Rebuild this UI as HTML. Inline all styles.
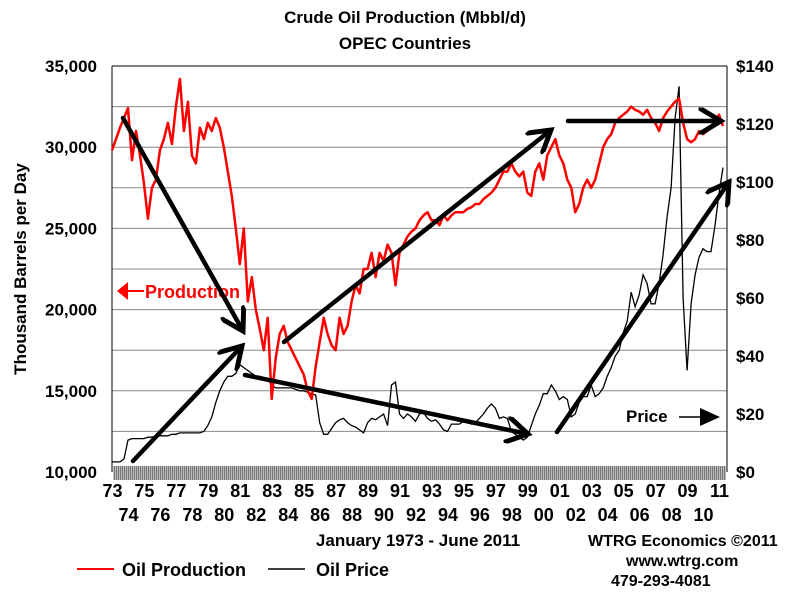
<!DOCTYPE html>
<html><head><meta charset="utf-8"><style>
body{margin:0;background:#fff;}
svg{display:block;font-family:"Liberation Sans",Arial,sans-serif;font-weight:bold;}
</style></head><body>
<svg id="chart" width="800" height="600" viewBox="0 0 800 600">
<defs>
<pattern id="hatch" width="2" height="2" patternUnits="userSpaceOnUse"><rect width="1" height="2" fill="#777"/><rect x="1" width="1" height="2" fill="#bbb"/></pattern>
<marker id="ah" markerWidth="6" markerHeight="6" refX="5" refY="3" orient="auto" markerUnits="strokeWidth"><path d="M0,0 L5,3 L0,6" fill="none" stroke="#000" stroke-width="1.1"/></marker>
</defs>
<text x="405" y="23" font-size="17" text-anchor="middle">Crude Oil Production (Mbbl/d)</text>
<text x="405" y="49" font-size="17" text-anchor="middle">OPEC Countries</text>
<g id="grid"></g>
<rect x="113" y="466" width="613" height="14" fill="url(#hatch)"/>
<line x1="112" y1="66" x2="727" y2="66" stroke="#000"/>
<line x1="112" y1="66" x2="112" y2="472" stroke="#000"/>
<line x1="727" y1="66" x2="727" y2="472" stroke="#000"/>
<g id="series"></g>
<g id="labels" font-size="17"></g>
<text transform="translate(26,269) rotate(-90)" font-size="17" text-anchor="middle">Thousand Barrels per Day</text>
<path d="M117,291 L128,282 L128,300 Z" fill="#f00"/>
<line x1="126" y1="291" x2="144" y2="291" stroke="#f00" stroke-width="2"/>
<text x="145" y="298" font-size="18" fill="#f00">Production</text>
<text x="626" y="422" font-size="17">Price</text>
<line x1="679" y1="417" x2="700" y2="417" stroke="#000" stroke-width="1.5"/>
<path d="M700,408 L720,417 L700,426 Z" fill="#000"/>
<g id="arrows" stroke="#000" stroke-width="4.5" fill="none" stroke-linecap="round"></g>
<text x="418" y="546" font-size="17" text-anchor="middle">January 1973 - June 2011</text>
<text x="588" y="546" font-size="16">WTRG Economics  ©2011</text>
<text x="626" y="566" font-size="16">www.wtrg.com</text>
<text x="611" y="586" font-size="16">479-293-4081</text>
<line x1="77" y1="569" x2="114" y2="569" stroke="#f00" stroke-width="2"/>
<text x="122" y="576" font-size="18">Oil Production</text>
<line x1="268" y1="569" x2="305" y2="569" stroke="#000" stroke-width="1.5"/>
<text x="316" y="576" font-size="18">Oil Price</text>
</svg>
<script>
const startYear = 1973;
const production = [
29.8,30.5,31.2,31.8, 32.4,29.2,31.0,29.5, 27.8,25.6,27.5,28.0, 29.8,30.5,31.5,30.2,
32.5,34.2,31.0,32.8, 29.5,29.0,31.2,30.5, 31.5,31.0,31.8,31.2, 30.0,28.5,27.0,25.0,
22.8,25.0,20.5,22.0, 20.0,18.8,17.5,19.5, 14.5,17.0,18.5,19.0, 18.0,17.5,17.0,16.5,
16.0,15.0,14.5,16.5, 18.0,19.5,18.5,17.8, 17.5,19.5,18.5,19.0, 20.5,21.5,21.0,22.5,
22.5,23.5,22.0,23.5, 23.0,24.0,23.5,21.5, 23.5,24.0,24.5,24.8, 25.0,25.5,25.8,26.0,
25.5,25.5,25.2,25.8, 25.5,25.8,26.0,26.0, 26.0,26.2,26.3,26.5, 26.5,26.8,27.0,27.2,
27.5,28.0,28.5,28.5, 29.0,28.5,28.2,28.5, 27.2,27.0,28.5,29.0, 28.0,29.5,30.0,30.5,
29.5,29.0,28.0,27.5, 26.0,26.5,27.5,28.0, 27.5,28.0,29.0,30.0, 30.5,30.8,31.5,31.8,
32.0,32.2,32.5,32.3, 32.2,32.0,32.3,31.8, 31.5,31.0,31.8,32.2, 32.5,32.8,33.0,31.5,
30.5,30.3,30.5,31.0, 30.8,31.0,31.2,31.5, 32.0,31.3];
const price = [
3.5,3.5,3.5,4.5, 11,11.5,11.5,11.5, 11.5,12,12,12.5, 12.5,12.5,12.5,13,
13,13.5,13.5,13.5, 13.5,13.5,13.5,14, 16,19,24,28, 31,33,33,34,
37,36,35,34, 33,33,32,32, 30,29,29,29, 29,29,28.5,28,
28,27.5,27,26.5, 17,13,13,15, 17,18,18.5,17, 16,15.5,14.5,13.5,
17,18.5,18,19, 20,16,30,31, 20,18.5,20,19, 17.5,20,20.5,18.5,
17.5,18,16.5,14.5, 14,16.5,16.5,16.5, 17.5,17.5,16.5,17, 18.5,20,22,23.5,
22,18.5,19,18.5, 14,13,12,11, 12,16,20,23, 27,27,30,28,
25,26,25,19, 20,24,26,26, 30,26,27,29, 33,36,40,42,
48,52,62,57, 61,68,65,58, 58,65,75,88, 98,122,133,60,
35,58,68,74, 77,76,76,85, 96,105];
const leftTicks = [10000,15000,20000,25000,30000,35000];
const gridValues = [12500,15000,17500,20000,22500,25000,27500,30000,32500,35000];
const rightTicks = [0,20,40,60,80,100,120,140];
const yearLabels = ["73","74","75","76","77","78","79","80","81","82","83","84","85","86","87","88","89","90","91","92","93","94","95","96","97","98","99","00","01","02","03","04","05","06","07","08","09","10","11"];

const X0=112,X1=727,Y0=472,Y1=66;
const xScale = t => X0 + (t-1973)/(2011.5-1973)*(X1-X0);
const yProd = v => Y0 - (v*1000-10000)/25000*(Y0-Y1);
const yPrice = v => Y0 - v/140*(Y0-Y1);
const NS="http://www.w3.org/2000/svg";
function mk(tag, parent, attrs){const e=document.createElementNS(NS,tag);for(const k in attrs)e.setAttribute(k,attrs[k]);parent.appendChild(e);return e;}

const grid=document.getElementById('grid');
gridValues.forEach(v=>{
  const y=Y0-(v-10000)/25000*(Y0-Y1);
  const l=mk('line',grid,{x1:X0,x2:X1,y1:y,y2:y,stroke:'#888','stroke-width':1});
  
  
});
const labels=document.getElementById('labels');
leftTicks.forEach(v=>{
  const y=Y0-(v-10000)/25000*(Y0-Y1);
  const t=mk('text',labels,{x:97,y:y+6,'text-anchor':'end'});
  t.textContent=v.toLocaleString('en-US');
  
  
});
rightTicks.forEach(v=>{
  const t=mk('text',labels,{x:736,y:yPrice(v)+6});
  t.textContent='$'+v;
  
  
});
yearLabels.forEach((s,i)=>{
  const t=mk('text',labels,{x:xScale(1973+i)+0.5,y:i%2===0?497:521,'text-anchor':'middle','font-size':18});
  t.textContent=s;
  
  
});
const series=document.getElementById('series');
const pp=price.map((v,i)=>xScale(startYear+i/4).toFixed(1)+','+yPrice(v).toFixed(1)).join(' ');
const priceLine=mk('polyline',series,{points:pp,fill:'none',stroke:'#000','stroke-width':1.3});


const pr=production.map((v,i)=>xScale(startYear+i/4).toFixed(1)+','+yProd(v).toFixed(1)).join(' ');
const prodLine=mk('polyline',series,{points:pr,fill:'none',stroke:'#f00','stroke-width':2.5,'stroke-linejoin':'round'});



const arrows=document.getElementById('arrows');
[[123,118,243,331],[133,461,242,346],[284,342,551,130],[245,375,528,434],[568,121,721,121],[557,432,729,182]].forEach(a=>{
  const l=mk('line',arrows,{x1:a[0],y1:a[1],x2:a[2],y2:a[3],'marker-end':'url(#ah)'});
  
  
});
</script>
</body></html>
